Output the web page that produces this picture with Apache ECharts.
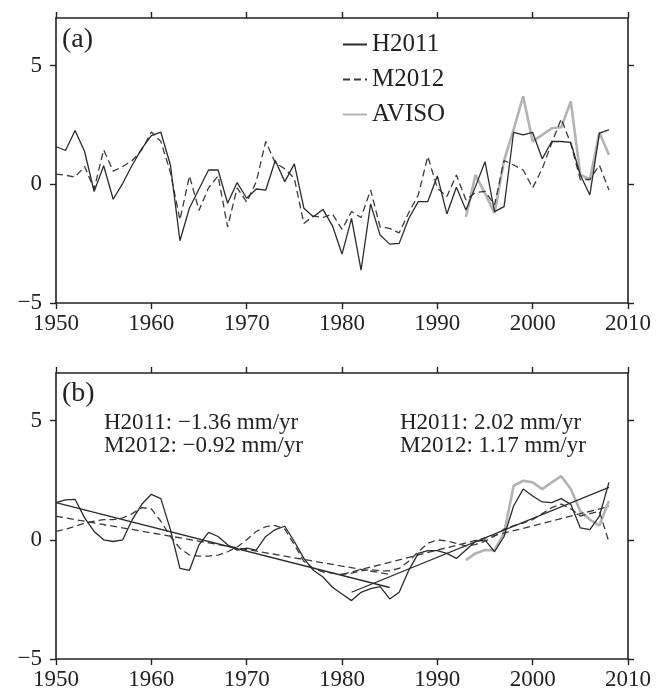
<!DOCTYPE html>
<html><head><meta charset="utf-8">
<script src="https://cdn.jsdelivr.net/npm/echarts@6/dist/echarts.min.js"></script>
<style>html,body{margin:0;padding:0;background:#fff}#c{width:657px;height:692px}</style>
</head><body><div id="c"></div>
<script>
const years = [1950,1951,1952,1953,1954,1955,1956,1957,1958,1959,
  1960,1961,1962,1963,1964,1965,1966,1967,1968,1969,
  1970,1971,1972,1973,1974,1975,1976,1977,1978,1979,
  1980,1981,1982,1983,1984,1985,1986,1987,1988,1989,
  1990,1991,1992,1993,1994,1995,1996,1997,1998,1999,
  2000,2001,2002,2003,2004,2005,2006,2007,2008];
const avisoYears = [1993,1994,1995,1996,1997,1998,1999,2000,2001,2002,2003,2004,2005,2006,2007,2008];

// panel (a): annual values (cm)
const h2011Raw = [1.59,1.42,2.26,1.38,-0.31,0.78,-0.63,0.04,0.81,1.50,
  2.05,2.19,0.81,-2.38,-1.00,-0.20,0.60,0.60,-0.80,0.07,
  -0.59,-0.20,-0.25,1.00,0.11,0.86,-1.01,-1.37,-1.06,-1.75,
  -2.94,-1.44,-3.62,-0.83,-2.14,-2.52,-2.49,-1.44,-0.73,-0.73,
  0.35,-1.25,-0.13,-1.08,-0.10,0.95,-1.15,-0.94,2.18,2.08,
  2.18,1.07,1.80,1.80,1.76,0.39,-0.45,2.15,2.29];
const m2012Raw = [0.43,0.38,0.30,0.75,-0.20,1.45,0.55,0.75,1.00,1.45,
  2.20,1.80,0.50,-1.50,0.35,-1.10,-0.15,0.35,-1.80,-0.15,
  -0.75,0.10,1.80,0.90,0.65,0.25,-1.65,-1.34,-1.40,-1.25,
  -1.90,-1.15,-1.40,-0.24,-1.80,-1.86,-2.05,-1.20,-0.45,1.17,
  -0.16,-0.52,0.39,-0.66,-0.35,-0.30,-0.87,1.00,0.81,0.60,
  -0.15,0.65,1.74,2.75,1.70,0.20,0.20,0.80,-0.24];
const avisoRaw = [-1.37,0.39,-0.38,-1.22,1.00,2.30,3.70,1.80,2.08,2.36,2.40,3.49,0.40,0.20,2.18,1.24];

// panel (b): smoothed values (cm)
const h2011Smooth = [1.56,1.68,1.70,0.92,0.35,0.00,-0.07,0.00,0.85,1.49,
  1.91,1.73,0.43,-1.20,-1.28,-0.21,0.31,0.14,-0.21,-0.43,
  -0.35,-0.43,0.14,0.43,0.57,-0.07,-0.78,-1.28,-1.56,-1.99,
  -2.27,-2.55,-2.20,-2.05,-1.96,-2.48,-2.20,-1.28,-0.57,-0.45,
  -0.45,-0.57,-0.78,-0.43,-0.07,0.00,-0.50,0.14,1.42,2.13,
  1.84,1.59,1.56,1.73,1.49,0.50,0.43,0.99,2.41];
const m2012Smooth = [0.35,0.45,0.57,0.70,0.78,0.85,0.85,0.92,1.10,1.35,
  1.30,0.78,0.14,-0.35,-0.64,-0.68,-0.68,-0.64,-0.50,-0.30,
  0.00,0.35,0.55,0.60,0.45,-0.20,-0.90,-1.20,-1.35,-1.40,
  -1.45,-1.40,-1.30,-1.25,-1.30,-1.30,-1.20,-0.90,-0.50,-0.15,
  0.00,-0.05,-0.15,-0.25,-0.20,-0.05,0.15,0.45,0.60,0.70,
  0.85,1.10,1.35,1.50,1.30,1.00,1.10,1.20,-0.10];
const avisoSmooth = [-0.85,-0.57,-0.43,-0.43,0.28,2.27,2.48,2.41,2.13,2.41,2.67,2.13,1.20,0.85,0.60,1.63];

// linear trends: [year, cm] end points
const h2011TrendEarly = [[1950, 1.56], [1985, -2.00]];
const h2011TrendLate  = [[1981, -2.20], [2008, 2.20]];
const m2012TrendEarly = [[1950, 0.99], [1985, -1.45]];
const m2012TrendLate  = [[1980, -1.45], [2008, 1.40]];

const yTicks = [-5, 0, 5];
const trendNotes = ['H2011: \u22121.36 mm/yr', 'M2012: \u22120.92 mm/yr', 'H2011: 2.02 mm/yr', 'M2012: 1.17 mm/yr'];

const FONT = '"Liberation Serif","DejaVu Serif",serif';
const INK = '#222';
const pairs = (xs, ys) => xs.map((x, i) => [x, ys[i]]);

function xAxes(g) {
  const base = {
    gridIndex: g, type: 'value', min: 1950, max: 2010, interval: 10,
    splitLine: {show: false},
    axisLine: {show: true, onZero: false, lineStyle: {color: INK, width: 1.6}},
    axisTick: {show: true, inside: false, length: 6, lineStyle: {color: INK, width: 1.4}}
  };
  return [
    Object.assign({}, base, {position: 'bottom',
      axisLabel: {show: true, margin: 9, fontFamily: FONT, fontSize: 23, color: INK,
        formatter: v => String(v)}}),
    Object.assign({}, base, {position: 'top', axisLabel: {show: false}})
  ];
}
function yAxes(g) {
  const base = {
    gridIndex: g, type: 'value', min: -5, max: 7,
    splitLine: {show: false},
    axisLine: {show: true, onZero: false, lineStyle: {color: INK, width: 1.6}},
    axisTick: {show: true, inside: false, length: 6, customValues: yTicks, lineStyle: {color: INK, width: 1.4}}
  };
  return [
    Object.assign({}, base, {position: 'left',
      axisLabel: {show: true, customValues: yTicks, margin: 14, fontFamily: FONT, fontSize: 23, color: INK,
        formatter: v => v < 0 ? '\u2212' + Math.abs(v) : String(v)},
      name: 'cm', nameLocation: 'middle', nameRotate: 90, nameGap: 28,
      nameTextStyle: {fontFamily: FONT, fontSize: 29, color: INK}}),
    Object.assign({}, base, {position: 'right', axisLabel: {show: false}})
  ];
}

const solid = {color: '#2b2b2b', width: 1.3, type: 'solid'};
const dashed = {color: '#3a3a3a', width: 1.3, type: [7, 4]};
const grey = {color: '#b3b3b3', width: 2.6, type: 'solid'};

function line(name, data, style, axisIdx, z) {
  return {name, type: 'line', data, xAxisIndex: axisIdx, yAxisIndex: axisIdx,
    symbol: 'none', showSymbol: false, lineStyle: style, itemStyle: {color: style.color},
    z: z || 2, animation: false, silent: true};
}

const chart = echarts.init(document.getElementById('c'), null, {renderer: 'canvas'});
chart.setOption({
  backgroundColor: '#fff',
  animation: false,
  grid: [
    {left: 56, right: 29, top: 18, height: 285, containLabel: false, outerBoundsMode: 'none'},
    {left: 56, right: 29, top: 373, height: 286, containLabel: false, outerBoundsMode: 'none'}
  ],
  xAxis: [...xAxes(0), ...xAxes(1)],
  yAxis: [...yAxes(0), ...yAxes(1)],
  legend: {
    orient: 'vertical', left: 337, top: 27, itemWidth: 24, itemHeight: 14, itemGap: 10,
    data: ['H2011', 'M2012', 'AVISO'],
    itemStyle: {opacity: 0, color: 'rgba(0,0,0,0)', borderWidth: 0},
    textStyle: {fontFamily: FONT, fontSize: 25, color: INK},
    selectedMode: false
  },
  series: [
    line('M2012', pairs(years, m2012Raw), dashed, 0, 2),
    line('H2011', pairs(years, h2011Raw), solid, 0, 3),
    line('AVISO', pairs(avisoYears, avisoRaw), grey, 0, 1),
    line('AVISO smoothed', pairs(avisoYears, avisoSmooth), grey, 2, 1),
    line('M2012 smoothed', pairs(years, m2012Smooth), dashed, 2, 2),
    line('H2011 smoothed', pairs(years, h2011Smooth), solid, 2, 3),
    line('H2011 trend 1', h2011TrendEarly, solid, 2, 3),
    line('H2011 trend 2', h2011TrendLate, solid, 2, 3),
    line('M2012 trend 1', m2012TrendEarly, dashed, 2, 2),
    line('M2012 trend 2', m2012TrendLate, dashed, 2, 2)
  ],
  graphic: [
    {type: 'text', left: 62, top: 26, style: {text: '(a)', fontFamily: FONT, fontSize: 28, fill: INK}},
    {type: 'text', left: 62, top: 380, style: {text: '(b)', fontFamily: FONT, fontSize: 28, fill: INK}},
    {type: 'text', left: 104, top: 411, style: {text: trendNotes[0], fontFamily: FONT, fontSize: 23, fill: INK}},
    {type: 'text', left: 104, top: 434, style: {text: trendNotes[1], fontFamily: FONT, fontSize: 23, fill: INK}},
    {type: 'text', left: 400, top: 411, style: {text: trendNotes[2], fontFamily: FONT, fontSize: 23, fill: INK}},
    {type: 'text', left: 400, top: 434, style: {text: trendNotes[3], fontFamily: FONT, fontSize: 23, fill: INK}}
  ]
});
</script></body></html>
